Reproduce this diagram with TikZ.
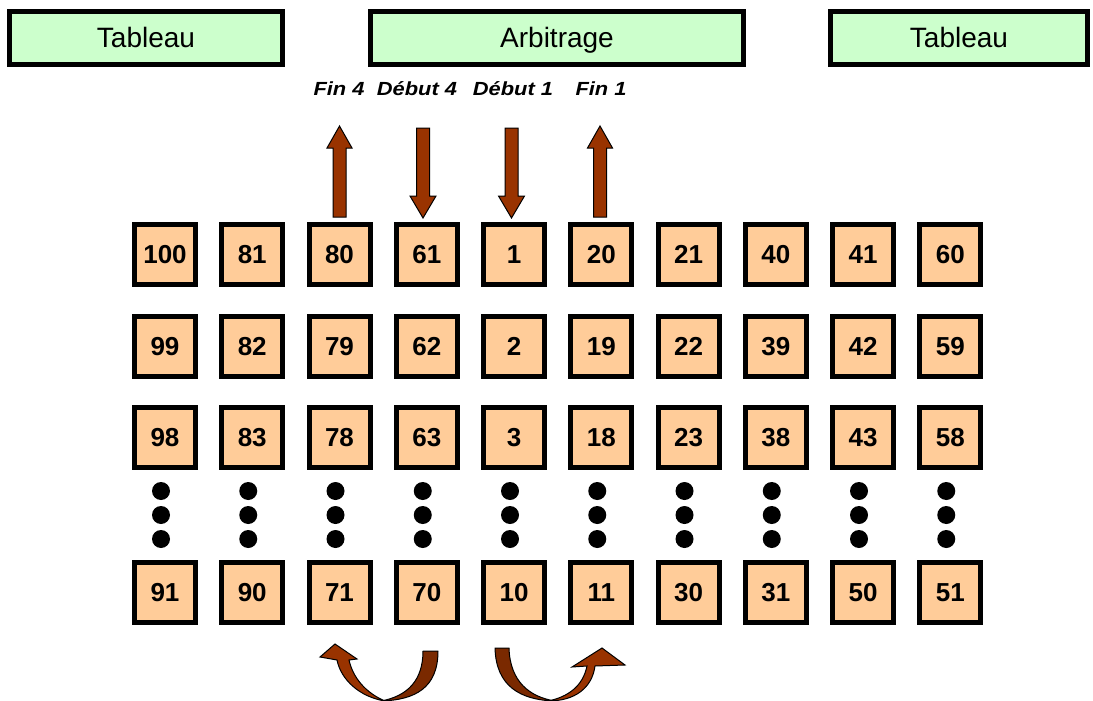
\documentclass[tikz,border=0pt]{standalone}
\usepackage{fontspec}
\setmainfont{Liberation Sans}
\usetikzlibrary{calc}
\definecolor{peach}{HTML}{FFCC99}
\definecolor{mint}{HTML}{CCFFCC}
\definecolor{brownA}{HTML}{993300}
\definecolor{brownB}{HTML}{7A2900}
\begin{document}
\begin{tikzpicture}[x=1pt,y=-1pt,
  numbox/.style={draw=black, line width=5pt, fill=peach, minimum width=61pt, minimum height=60pt, inner sep=0pt, text height=18.6pt, text depth=0pt, font=\fontsize{26}{26}\selectfont\bfseries},
  topbox/.style={draw=black, line width=5pt, fill=mint, minimum height=53pt, inner sep=0pt, text height=20pt, text depth=0pt, font=\fontsize{28}{28}\selectfont},
  lbl/.style={inner sep=0pt, font=\fontsize{19}{19}\selectfont\bfseries\itshape},
  blockarrow/.style={draw=black, line width=1pt, fill=brownA, line join=miter},
  darkarrow/.style={draw=black, line width=1pt, fill=brownB, line join=round},
  lightarrow/.style={draw=black, line width=1pt, fill=brownA, line join=miter},
  dot/.style={fill=black}
]
\useasboundingbox (0,0) rectangle (1093,701);
\fill[white] (0,0) rectangle (1093,701);

% top boxes
\node[topbox, minimum width=273pt] (tabL) at (146,38) {Tableau};
\node[topbox, minimum width=373pt] (arb) at (557,38) {Arbitrage};
\node[topbox, minimum width=257pt] (tabR) at (959,38) {Tableau};

% labels
\node[lbl] (fin4) at (339,89) {\scalebox{1.15}[1]{Fin 4}};
\node[lbl] (deb4) at (417,89) {\scalebox{1.15}[1]{Début 4}};
\node[lbl] (deb1) at (513,89) {\scalebox{1.15}[1]{Début 1}};
\node[lbl] (fin1) at (601,89) {\scalebox{1.15}[1]{Fin 1}};

% grid of numbered boxes
\foreach \c/\a/\b/\d/\e in {1/100/99/98/91, 2/81/82/83/90, 3/80/79/78/71, 4/61/62/63/70, 5/1/2/3/10, 6/20/19/18/11, 7/21/22/23/30, 8/40/39/38/31, 9/41/42/43/50, 10/60/59/58/51}{
  \pgfmathsetmacro{\xx}{165+(\c-1)*87.25}
  \node[numbox] (n\c-1) at (\xx,254.5) {\a};
  \node[numbox] (n\c-2) at (\xx,346) {\b};
  \node[numbox] (n\c-3) at (\xx,437) {\d};
  \node[numbox] (n\c-4) at (\xx,592) {\e};
  \fill[dot] (\xx-4,491) circle (9);
  \fill[dot] (\xx-4,515) circle (9);
  \fill[dot] (\xx-4,539) circle (9);
}

% straight block arrows
\draw[blockarrow] (333,217)--(333,148)--(327,148)--(339.5,126)--(352,148)--(346,148)--(346,217)--cycle;
\draw[blockarrow] (593.5,217)--(593.5,148)--(587.5,148)--(600,126)--(612.5,148)--(606.5,148)--(606.5,217)--cycle;
\draw[blockarrow] (416.5,128)--(429.5,128)--(429.5,196)--(436,196)--(423,218)--(410,196)--(416.5,196)--cycle;
\draw[blockarrow] (505,128)--(518,128)--(518,196)--(524.5,196)--(511.5,218)--(498.5,196)--(505,196)--cycle;

% left curved arrow (under 71 / 70)
\draw[lightarrow] (385,701) .. controls (360,697) and (341,680) .. (337,660)
   -- (320,657) -- (335,644) -- (357,659) -- (349,660)
   .. controls (353,678) and (366,693) .. (385,701) -- cycle;
\draw[darkarrow] (423,651) -- (438,651) .. controls (438,688) and (415,700) .. (381,701)
   .. controls (408,696) and (423,680) .. (423,651) -- cycle;

% right curved arrow (under 10 / 11)
\draw[lightarrow] (548,701) .. controls (575,701) and (592,688) .. (595,666)
   -- (625,665) -- (602,648) -- (572,667) -- (587,666)
   .. controls (583,686) and (568,697) .. (548,701) -- cycle;
\draw[darkarrow] (495,648) -- (509,648) .. controls (510,682) and (530,697) .. (555,701)
   .. controls (520,700) and (496,686) .. (495,648) -- cycle;
\end{tikzpicture}
\end{document}
